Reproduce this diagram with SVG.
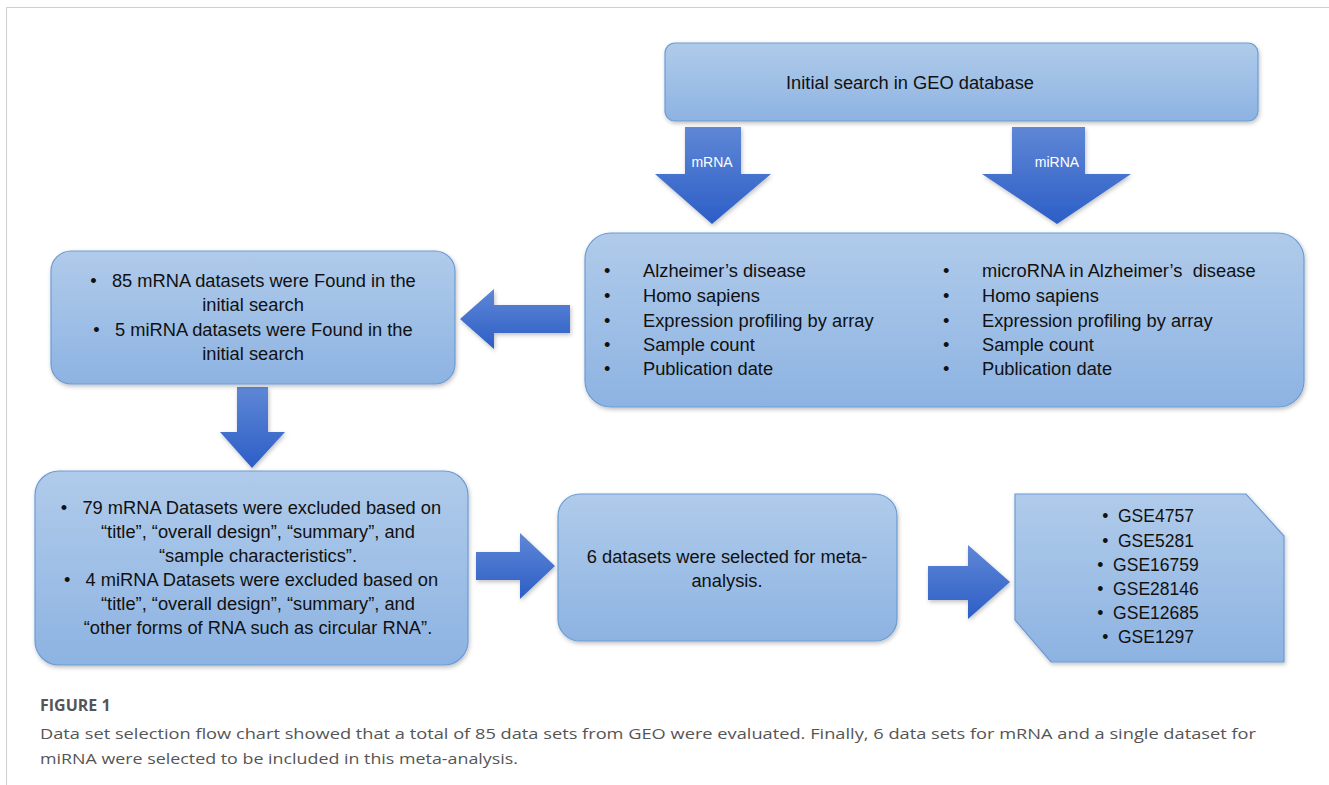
<svg xmlns="http://www.w3.org/2000/svg" width="1329" height="785" viewBox="0 0 1329 785">
<defs>
<linearGradient id="boxg" x1="0" y1="0" x2="0" y2="1">
<stop offset="0" stop-color="#b0cbea"/>
<stop offset="1" stop-color="#8db3e2"/>
</linearGradient>
<linearGradient id="arrv" x1="0" y1="0" x2="0" y2="1">
<stop offset="0" stop-color="#5f87d6"/>
<stop offset="1" stop-color="#2c5ec6"/>
</linearGradient>
<filter id="sh" x="-10%" y="-10%" width="130%" height="130%">
<feDropShadow dx="1" dy="2" stdDeviation="2" flood-color="#000" flood-opacity="0.25"/>
</filter>
</defs>
<style>
.box{fill:url(#boxg);stroke:#6d9bd6;stroke-width:1.2;filter:url(#sh)}
.av{fill:url(#arrv);filter:url(#sh)}
.t{font-family:"Liberation Sans",Arial,sans-serif;font-size:18.3px;fill:#111}
.c{text-anchor:middle}
.g{font-size:17.5px}
.al{font-family:"Liberation Sans",Arial,sans-serif;font-size:14px;fill:#fff;text-anchor:middle}
.cap{font-family:"Open Sans","Liberation Sans",sans-serif;fill:#555}
</style>
<rect x="0" y="0" width="1329" height="785" fill="#fff"/>
<path d="M6.5 785 V7.5 H1329" fill="none" stroke="#cfcfcf" stroke-width="1"/>

<g id="connectors">
<path class="av" d="M685 127 H741 V174 H771 L712 224 L655 174 H685 Z"/>
<text class="al" x="712" y="167">mRNA</text>
<path class="av" d="M1012 127 H1085 V174 H1131 L1057 224 L982 174 H1012 Z"/>
<text class="al" x="1057" y="167">miRNA</text>
<path class="av" d="M570 305 V333 H494 V349 L460 319 L494 289 V305 Z"/>
<path class="av" d="M237 387 H268 V432 H285 L252 468 L220 432 H237 Z"/>
<path class="av" d="M476 552 H520 V533 L555 566 L520 599 V580 H476 Z"/>
<path class="av" d="M928 566 H968 V545 L1010 582 L968 619 V600 H928 Z"/>
</g>

<g id="n-initial">
<rect class="box" x="665" y="43" width="593" height="78" rx="10"/>
<text class="t c" x="910" y="89">Initial search in GEO database</text>
</g>

<g id="n-criteria">
<rect class="box" x="585" y="233" width="719" height="174" rx="26"/>
<g class="t">
<text x="604" y="277">•</text><text x="643" y="277">Alzheimer’s disease</text>
<text x="604" y="302">•</text><text x="643" y="302">Homo sapiens</text>
<text x="604" y="327">•</text><text x="643" y="327">Expression profiling by array</text>
<text x="604" y="351">•</text><text x="643" y="351">Sample count</text>
<text x="604" y="375">•</text><text x="643" y="375">Publication date</text>
<text x="943" y="277">•</text><text x="982" y="277">microRNA in Alzheimer’s&#160; disease</text>
<text x="943" y="302">•</text><text x="982" y="302">Homo sapiens</text>
<text x="943" y="327">•</text><text x="982" y="327">Expression profiling by array</text>
<text x="943" y="351">•</text><text x="982" y="351">Sample count</text>
<text x="943" y="375">•</text><text x="982" y="375">Publication date</text>
</g>
</g>

<g id="n-found">
<rect class="box" x="51" y="251" width="404" height="133" rx="20"/>
<g class="t c">
<text x="253" y="287">•&#160;&#160;&#160;85 mRNA datasets were Found in the</text>
<text x="253" y="311">initial search</text>
<text x="253" y="336">•&#160;&#160;&#160;5 miRNA datasets were Found in the</text>
<text x="253" y="360">initial search</text>
</g>
</g>

<g id="n-excluded">
<rect class="box" x="35" y="471" width="433" height="194" rx="24"/>
<g class="t c">
<text x="251" y="514">•&#160;&#160;&#160;79 mRNA Datasets were excluded based on</text>
<text x="258" y="538">“title”, “overall design”, “summary”, and</text>
<text x="258" y="562">“sample characteristics”.</text>
<text x="251" y="586">•&#160;&#160;&#160;4 miRNA Datasets were excluded based on</text>
<text x="258" y="610">“title”, “overall design”, “summary”, and</text>
<text x="258" y="634">“other forms of RNA such as circular RNA”.</text>
</g>
</g>

<g id="n-selected">
<rect class="box" x="558" y="494" width="339" height="147" rx="22"/>
<g class="t c">
<text x="727" y="563">6 datasets were selected for meta-</text>
<text x="727" y="587">analysis.</text>
</g>
</g>

<g id="n-gse">
<path class="box" d="M1015 494 H1246 L1284 536 V662 H1051 L1015 620 Z"/>
<g class="t c g">
<text x="1148" y="522">•&#160;&#160;GSE4757</text>
<text x="1148" y="547">•&#160;&#160;GSE5281</text>
<text x="1148" y="571">•&#160;&#160;GSE16759</text>
<text x="1148" y="595">•&#160;&#160;GSE28146</text>
<text x="1148" y="619">•&#160;&#160;GSE12685</text>
<text x="1148" y="643">•&#160;&#160;GSE1297</text>
</g>
</g>

<g id="caption">
<text class="cap" x="40" y="711" font-size="16" font-weight="bold" fill="#444">FIGURE 1</text>
<text class="cap" x="40" y="739" font-size="15" textLength="1216" lengthAdjust="spacingAndGlyphs">Data set selection flow chart showed that a total of 85 data sets from GEO were evaluated. Finally, 6 data sets for mRNA and a single dataset for</text>
<text class="cap" x="40" y="764" font-size="15" textLength="478" lengthAdjust="spacingAndGlyphs">miRNA were selected to be included in this meta-analysis.</text>
</g>
</svg>
